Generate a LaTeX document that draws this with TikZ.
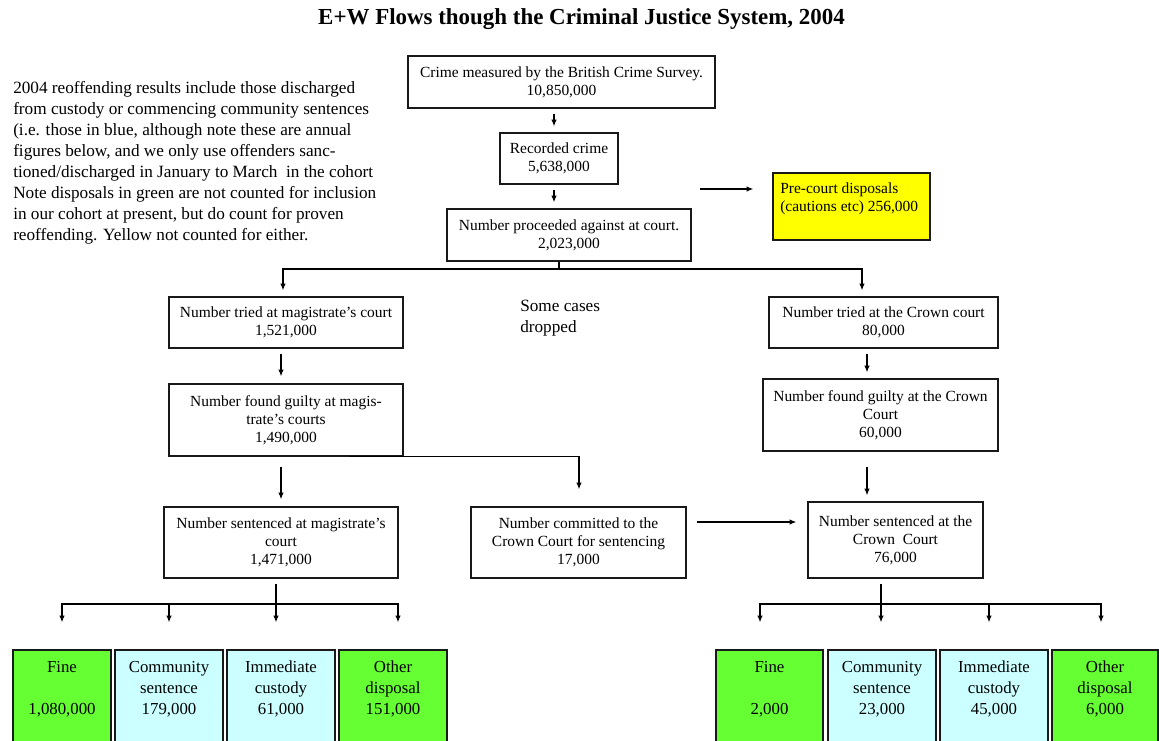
\documentclass[tikz,border=0pt]{standalone}
\usepackage{fontspec}
\setmainfont{Liberation Serif}
\usetikzlibrary{arrows.meta}
\newcommand\boxfont{\fontsize{11.6pt}{13.5pt}\selectfont}
\newcommand\parafont{\fontsize{12.9pt}{15.75pt}\selectfont}
\newcommand\botfont{\fontsize{12.6pt}{15.75pt}\selectfont}
\newcommand\titlefont{\fontsize{17.2pt}{20pt}\selectfont\bfseries}
\definecolor{dgreen}{HTML}{66FF33}
\definecolor{lcyan}{HTML}{CCFFFF}
\definecolor{yel}{HTML}{FFFF00}
\begin{document}
\begin{tikzpicture}[x=0.75pt,y=-0.75pt,
  box/.style={draw=black!90, line width=0.9pt, fill=white, inner sep=0pt, align=center, font=\boxfont},
  sz/.style 2 args={minimum width=#1*0.75pt, minimum height=#2*0.75pt},
  conn/.style={line width=0.9pt, draw=black},
  arr/.style={conn, -{Latex[length=5pt,width=4pt]}},
  btxt/.style={inner sep=0pt, align=center, font=\botfont},
  greenbox/.style={draw=black!90, line width=0.9pt, fill=dgreen, inner sep=0pt},
  cyanbox/.style={draw=black!90, line width=0.9pt, fill=lcyan, inner sep=0pt}]
\useasboundingbox (0,0) rectangle (1159,740);

% title and notes
\node[font=\titlefont, inner sep=0pt] (title) at (581.5,19) {E+W Flows though the Criminal Justice System, 2004};
\node[font=\parafont, align=left, anchor=west, inner sep=0pt] (note) at (13,162.5)
 {2004 reoffending results include those discharged\\
  from custody or commencing community sentences\\
  (i.e. those in blue, although note these are annual\\
  figures below, and we only use offenders sanc-\\
  tioned/discharged in January to March\ \ in the cohort\\
  Note disposals in green are not counted for inclusion\\
  in our cohort at present, but do count for proven\\
  reoffending. Yellow not counted for either.};

% top chain
\node[box, sz={307}{52}] (crime) at (561.5,82) {Crime measured by the British Crime Survey.\\10,850,000};
\node[box, sz={118}{51}] (recorded) at (559,158.5) {Recorded crime\\5,638,000};
\node[box, sz={244}{52}] (proceeded) at (569,235) {Number proceeded against at court.\\2,023,000};
\node[box, sz={157}{67}, fill=yel] (precourt) at (851.5,206.5) {};
\node[font=\boxfont, align=left, anchor=west, inner sep=0pt] (precourttxt) at (780,199) {Pre-court disposals\\(cautions etc) 256,000};

% magistrates branch
\node[box, sz={234}{51}] (magtried) at (286,322.5) {Number tried at magistrate’s court\\1,521,000};
\node[box, sz={234}{72}] (magguilty) at (286,420) {Number found guilty at magis-\\trate’s courts\\1,490,000};
\node[box, sz={234}{71}] (magsent) at (281,542.5) {Number sentenced at magistrate’s\\court\\1,471,000};
\node[box, sz={215}{71}] (committed) at (578.5,542.5) {Number committed to the\\Crown Court for sentencing\\17,000};

% crown branch
\node[box, sz={229}{51}] (crowntried) at (883.5,322.5) {Number tried at the Crown court\\80,000};
\node[box, sz={235}{72}] (crownguilty) at (880.5,415) {Number found guilty at the Crown\\Court\\60,000};
\node[box, sz={175}{76}] (crownsent) at (895.5,540) {Number sentenced at the\\Crown\ \ Court\\76,000};

\node[font=\parafont, align=left, anchor=west, inner sep=0pt] (dropped) at (520,318.5) {Some cases\\dropped};

% bottom boxes left
\node[greenbox, sz={98}{110}] (lfine) at (62,705) {};
\node[cyanbox, sz={108}{110}] (lcomm) at (169,705) {};
\node[cyanbox, sz={108}{110}] (limm) at (281,705) {};
\node[greenbox, sz={108}{110}] (loth) at (393,705) {};
\node[btxt] (lfinet) at (62,689) {Fine\\\mbox{}\\1,080,000};
\node[btxt] (lcommt) at (169,689) {Community\\sentence\\179,000};
\node[btxt] (limmt) at (281,689) {Immediate\\custody\\61,000};
\node[btxt] (lotht) at (393,689) {Other\\disposal\\151,000};

% bottom boxes right
\node[greenbox, sz={107}{110}] (rfine) at (769.5,705) {};
\node[cyanbox, sz={108}{110}] (rcomm) at (882,705) {};
\node[cyanbox, sz={108}{110}] (rimm) at (994,705) {};
\node[greenbox, sz={106}{110}] (roth) at (1105,705) {};
\node[btxt] (rfinet) at (769.5,689) {Fine\\\mbox{}\\2,000};
\node[btxt] (rcommt) at (882,689) {Community\\sentence\\23,000};
\node[btxt] (rimmt) at (994,689) {Immediate\\custody\\45,000};
\node[btxt] (rotht) at (1105,689) {Other\\disposal\\6,000};

% connectors: top chain
\draw[arr, shorten <=3.75pt, shorten >=4.5pt] (crime.south -| 554,0) -- (recorded.north -| 554,0);
\draw[arr, shorten <=3.75pt, shorten >=4.5pt] (recorded.south -| 554,0) -- (proceeded.north -| 554,0);
\coordinate (sa) at (700,189);
\draw[arr, shorten >=14.25pt] (sa) -- (sa -| precourt.west);

% split
\coordinate (split) at (559,269);
\draw[conn] (proceeded.south -| split) -- (split);
\draw[arr, shorten >=4.5pt] (split) -| (magtried.north -| 283,0);
\draw[arr, shorten >=4.5pt] (split) -| (crowntried.north -| 862,0);

% magistrates
\draw[arr, shorten <=3.75pt, shorten >=5.25pt] (magtried.south -| 281,0) -- (magguilty.north -| 281,0);
\draw[arr, shorten <=7.5pt, shorten >=5.25pt] (magguilty.south -| 281,0) -- (magsent.north -| 281,0);
\draw[arr, shorten >=12.75pt] (magguilty.south -| 349,0) -| (committed.north -| 579,0);

% crown
\draw[arr, shorten <=3.75pt, shorten >=4.5pt] (crowntried.south -| 867,0) -- (crownguilty.north -| 867,0);
\draw[arr, shorten <=11.25pt, shorten >=4.5pt] (crownguilty.south -| 867,0) -- (crownsent.north -| 867,0);
\draw[arr, shorten <=7.5pt, shorten >=8.25pt] (committed.east |- 0,522) -- (crownsent.west |- 0,522);

% bottom left tree
\coordinate (bl) at (276,604);
\draw[conn, shorten <=3.75pt] (magsent.south -| bl) -- (bl);
\draw[arr, shorten >=20.25pt] (bl) -| (lfine.north -| 62,0);
\draw[arr, shorten >=20.25pt] (bl) -| (lcomm.north -| 169,0);
\draw[arr, shorten >=20.25pt] (bl) -- (limm.north -| bl);
\draw[arr, shorten >=20.25pt] (bl) -| (loth.north -| 398,0);

% bottom right tree
\coordinate (br) at (881,604);
\draw[conn, shorten <=3.75pt] (crownsent.south -| br) -- (br);
\draw[arr, shorten >=20.25pt] (br) -| (rfine.north -| 760,0);
\draw[arr, shorten >=20.25pt] (br) -- (rcomm.north -| br);
\draw[arr, shorten >=20.25pt] (br) -| (rimm.north -| 989,0);
\draw[arr, shorten >=20.25pt] (br) -| (roth.north -| 1101,0);
\end{tikzpicture}
\end{document}
